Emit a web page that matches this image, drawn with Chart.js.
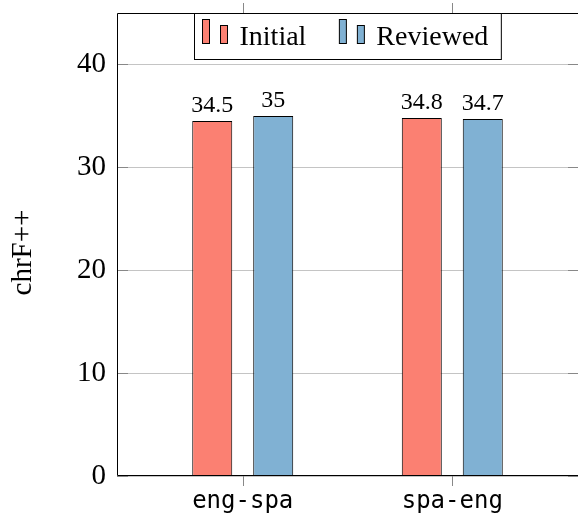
<!DOCTYPE html>
<html>
<head>
<meta charset="utf-8">
<script src="https://cdn.jsdelivr.net/npm/chart.js@4/dist/chart.umd.min.js"></script>
<style>
  html, body { margin: 0; padding: 0; background: #fff; }
  #wrap { width: 578px; height: 515px; }
</style>
</head>
<body>
<div id="wrap"><canvas id="chart" width="578" height="515"></canvas></div>
<script>
const categories = ["eng-spa", "spa-eng"];
const seriesNames = ["Initial", "Reviewed"];
const initialVals = [34.5, 34.8];
const reviewedVals = [35, 34.7];
const yTicks = [0, 10, 20, 30, 40];

const serif = "'Liberation Serif', 'DejaVu Serif', serif";
const mono = "'DejaVu Sans Mono', 'Liberation Mono', monospace";
const colors = ["#fb8072", "#80b1d3"];

// value labels above each bar
const barLabels = {
  id: "barLabels",
  afterDatasetsDraw(chart) {
    const ctx = chart.ctx;
    ctx.save();
    ctx.font = "24px " + serif;
    ctx.fillStyle = "#000";
    ctx.textAlign = "center";
    ctx.textBaseline = "alphabetic";
    chart.data.datasets.forEach((ds, di) => {
      chart.getDatasetMeta(di).data.forEach((el, i) => {
        ctx.fillText(String(ds.data[i].y), el.x, el.y - 9);
      });
    });
    ctx.restore();
  },
};

// frame, tick marks, y title and legend box (pgfplots look)
const decorations = {
  id: "decorations",
  afterDraw(chart) {
    const ctx = chart.ctx;
    const a = chart.chartArea;
    const xs = chart.scales.x, ys = chart.scales.y;
    ctx.save();

    ctx.strokeStyle = "#888";
    ctx.lineWidth = 1;
    ctx.beginPath();
    yTicks.forEach((v) => {
      const y = Math.round(ys.getPixelForValue(v)) + 0.5;
      ctx.moveTo(a.left, y); ctx.lineTo(a.left + 11, y);
      ctx.moveTo(a.right - 10, y); ctx.lineTo(a.right, y);
    });
    categories.forEach((c, i) => {
      const x = Math.round(xs.getPixelForValue(i)) + 0.5;
      ctx.moveTo(x, a.bottom); ctx.lineTo(x, a.bottom + 10);
      ctx.moveTo(x, a.top - 10); ctx.lineTo(x, a.top);
    });
    ctx.stroke();

    ctx.strokeStyle = "#000";
    ctx.beginPath();
    ctx.moveTo(a.right + 1, a.top + 0.5);
    ctx.lineTo(a.left + 0.5, a.top + 0.5);
    ctx.lineTo(a.left + 0.5, a.bottom - 0.5);
    ctx.lineTo(a.right + 1, a.bottom - 0.5);
    ctx.stroke();

    // y axis title
    ctx.save();
    ctx.translate(31, (a.top + a.bottom) / 2 + 8);
    ctx.rotate(-Math.PI / 2);
    ctx.font = "29px " + serif;
    ctx.fillStyle = "#000";
    ctx.textAlign = "center";
    ctx.textBaseline = "alphabetic";
    ctx.fillText("chrF++", 0, 0);
    ctx.restore();

    // legend
    ctx.font = "28px " + serif;
    const widths = seriesNames.map((n) => ctx.measureText(n).width);
    const padL = 8, padR = 13, icon = 25, gapText = 12, gapItem = 33;
    const total = padL + icon + gapText + widths[0] + gapItem + icon + gapText + widths[1] + padR;
    const bx = Math.round((a.left + a.right) / 2 - total / 2) + 0.5;
    const by = a.top + 0.5;
    const bh = 46;
    ctx.fillStyle = "#fff";
    ctx.fillRect(bx, by, total, bh);
    ctx.strokeStyle = "#000";
    ctx.strokeRect(bx, by, total, bh);
    let x = bx + padL;
    seriesNames.forEach((name, i) => {
      ctx.fillStyle = colors[i];
      ctx.strokeStyle = "#000";
      ctx.fillRect(x, by + 6, 7, 24);
      ctx.strokeRect(x, by + 6, 7, 24);
      ctx.fillRect(x + 18, by + 12, 7, 18);
      ctx.strokeRect(x + 18, by + 12, 7, 18);
      x += icon + gapText;
      ctx.fillStyle = "#000";
      ctx.textAlign = "left";
      ctx.textBaseline = "alphabetic";
      ctx.fillText(name, x, by + 31);
      x += widths[i] + gapItem;
    });
    ctx.restore();
  },
};

function drawChart() {
  new Chart(document.getElementById("chart"), {
    type: "bar",
    data: {
      datasets: [
        {
          label: seriesNames[0],
          data: initialVals.map((v, i) => ({ x: i, y: v })),
          backgroundColor: colors[0],
          borderColor: "#000",
          borderWidth: 1,
        },
        {
          label: seriesNames[1],
          data: reviewedVals.map((v, i) => ({ x: i, y: v })),
          backgroundColor: colors[1],
          borderColor: "#000",
          borderWidth: 1,
        },
      ],
    },
    options: {
      responsive: false,
      animation: false,
      categoryPercentage: 0.582,
      barPercentage: 0.656,
      layout: { padding: { top: 13, right: 0, left: 0, bottom: 0 } },
      plugins: { legend: { display: false }, tooltip: { enabled: false } },
      scales: {
        x: {
          type: "linear",
          offset: false,
          min: -0.6,
          max: 1.6,
          grid: { display: false, drawTicks: false },
          border: { display: false },
          afterBuildTicks: (s) => { s.ticks = categories.map((c, i) => ({ value: i })); },
          afterFit: (s) => { s.height = 39; s.paddingLeft = 0; s.paddingRight = 0; },
          ticks: {
            padding: 11,
            color: "#000",
            font: { family: mono, size: 24 },
            maxRotation: 0,
            callback: (v) => categories[v] ?? "",
          },
        },
        y: {
          min: 0,
          max: 45,
          grid: { color: "#c4c4c4", drawTicks: false },
          border: { display: false },
          afterBuildTicks: (s) => { s.ticks = yTicks.map((v) => ({ value: v })); },
          afterFit: (s) => { s.width = 117; s.paddingTop = 0; s.paddingBottom = 0; },
          ticks: {
            padding: 11,
            color: "#000",
            font: { family: serif, size: 29 },
          },
        },
      },
    },
    plugins: [barLabels, decorations],
  });
}

// make sure the local fonts are ready before the canvas text is drawn
Promise.all([
  document.fonts.load("24px 'Liberation Serif'"),
  document.fonts.load("24px 'DejaVu Sans Mono'"),
]).then(drawChart, drawChart);
</script>
</body>
</html>
